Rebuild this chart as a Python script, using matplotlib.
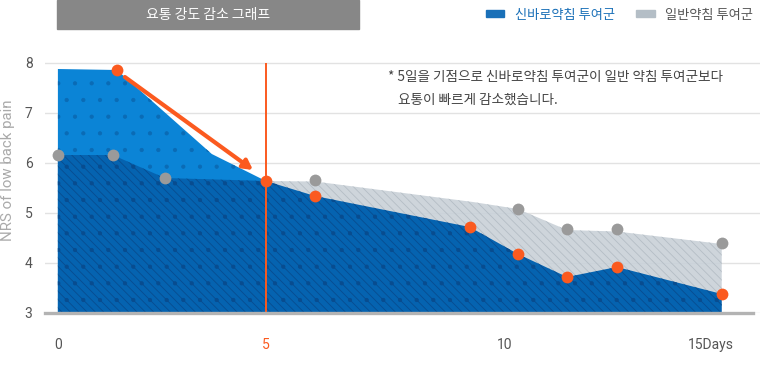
import matplotlib
matplotlib.use("Agg")
import matplotlib.pyplot as plt
from matplotlib.patches import Patch

plt.rcParams['font.family'] = ['Noto Sans CJK KR', 'DejaVu Sans']
plt.rcParams['hatch.linewidth'] = 0.6

# marker series (x in days)
new_x = [1.42, 5.0, 6.18, 9.9, 11.06, 12.24, 13.44, 15.96]
new_y = [7.86, 5.64, 5.34, 4.72, 4.18, 3.72, 3.92, 3.38]
gen_x = [0, 1.32, 2.57, 6.18, 11.06, 12.24, 13.44, 15.96]
gen_y = [6.16, 6.16, 5.70, 5.66, 5.08, 4.68, 4.68, 4.40]

# filled area outlines
gen_area_x = [0, 1.32, 2.57, 5.0, 6.18, 9.98, 11.06, 12.24, 13.44, 15.96]
gen_area_y = [6.16, 6.16, 5.70, 5.64, 5.63, 5.22, 5.08, 4.66, 4.63, 4.38]
new_area_x = [0, 1.42, 3.70, 5.0]
new_area_y = [7.88, 7.86, 6.18, 5.64]
both_area_x = [0, 1.32, 2.57, 5.0, 6.18, 9.9, 11.06, 12.24, 13.44, 15.96]
both_area_y = [6.16, 6.16, 5.70, 5.64, 5.34, 4.72, 4.18, 3.72, 3.92, 3.38]

arrow_from = (1.61, 7.72)
arrow_to = (4.69, 5.86)

xtick_pos = [0, 5, 10.75, 15.7]
xtick_lab = ['0', '5', '10', '15Days']
ytick_pos = [3, 4, 5, 6, 7, 8]

orange = '#fb5a1f'
blue = '#0b84d6'
dblue = '#0563b0'
garea = '#c9d1d8'
gdot = '#9a9a9a'

fig = plt.figure(figsize=(7.6, 3.9), dpi=100)
ax = fig.add_axes([45 / 760, 1 - 313 / 390, 715 / 760, 263 / 390])
ax.set_xlim(-0.31, 16.88)
ax.set_ylim(3, 8.26)

ax.set_yticks(ytick_pos)
ax.yaxis.grid(True, color='#e2e2e2', lw=1)
ax.set_axisbelow(True)
for s in ax.spines.values():
    s.set_visible(False)
ax.axhline(3, xmax=(753 - 45) / 715, color='#b3b3b3', lw=2.4, clip_on=False, zorder=6)

ax.fill_between(gen_area_x, 3, gen_area_y, facecolor=garea, edgecolor='#b2bbc3',
                hatch='\\\\\\\\', lw=0, alpha=0.9, zorder=1)
ax.fill_between(new_area_x, 3, new_area_y, facecolor=blue, edgecolor='#0a6bb5',
                hatch='.', lw=0, zorder=2)
ax.fill_between(both_area_x, 3, both_area_y, facecolor=dblue, edgecolor='#084c8f',
                hatch='\\\\\\\\.', lw=0, zorder=3)

ax.vlines(5, 3, 8, color=orange, lw=1.4, zorder=4)
ax.annotate('', xy=arrow_to, xytext=arrow_from,
            arrowprops=dict(arrowstyle='-|>,head_length=0.55,head_width=0.3',
                            color=orange, lw=3, shrinkA=0, shrinkB=0), zorder=5)

ax.plot(gen_x, gen_y, 'o', color=gdot, ms=8.5, mew=0, zorder=7, clip_on=False)
ax.plot(new_x, new_y, 'o', color=orange, ms=8.5, mew=0, zorder=8, clip_on=False)

ax.set_xticks(xtick_pos)
ax.set_xticklabels(xtick_lab)
ax.tick_params(axis='both', length=0, labelsize=10, colors='#555555')
ax.tick_params(axis='x', pad=18)
ax.tick_params(axis='y', pad=9)
for lab in ax.get_xticklabels() + ax.get_yticklabels():
    lab.set_family(['Roboto', 'DejaVu Sans'])
ax.get_xticklabels()[1].set_color(orange)

fig.text(8 / 760, 1 - 170 / 390, 'NRS of low back pain', rotation=90,
         ha='center', va='center', color='#aaaaaa', fontsize=10.8,
         family=['Roboto', 'DejaVu Sans'])

# title box
fig.patches.append(plt.Rectangle((57 / 760, 1 - 29 / 390), 302 / 760, 29 / 390,
                                 transform=fig.transFigure, color='#878787'))
fig.text(208 / 760, 1 - 15 / 390, '요통 강도 감소 그래프', ha='center', va='center',
         color='white', fontsize=10)

handles = [Patch(color='#1a70b8'), Patch(color='#b4bec6')]
leg = fig.legend(handles, ['신바로약침 투여군', '일반약침 투여군'], ncol=2,
                 loc='center right', bbox_to_anchor=(753 / 760, 1 - 15 / 390),
                 frameon=False, fontsize=9.5, borderpad=0, borderaxespad=0,
                 handlelength=1.4, handleheight=0.4, handletextpad=0.8,
                 columnspacing=1.6)
leg.get_texts()[0].set_color('#1a70b8')
leg.get_texts()[1].set_color('#555555')

fig.text(388 / 760, 1 - 77 / 390, '* 5일을 기점으로 신바로약침 투여군이 일반 약침 투여군보다',
         ha='left', va='center', color='#444444', fontsize=9.8)
fig.text(398 / 760, 1 - 100 / 390, '요통이 빠르게 감소했습니다.',
         ha='left', va='center', color='#444444', fontsize=9.8)

fig.savefig('out.png', dpi=100)
